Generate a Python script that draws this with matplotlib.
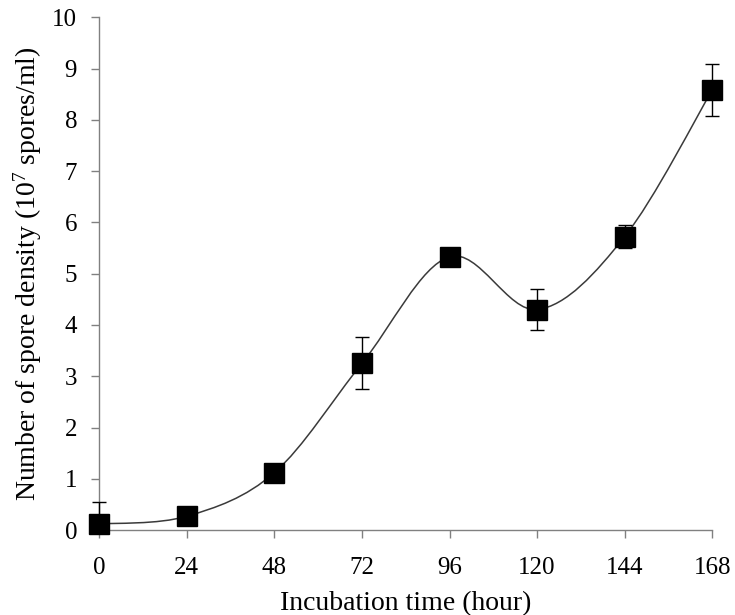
import matplotlib
matplotlib.use("Agg")
import matplotlib.pyplot as plt
from matplotlib.path import Path
from matplotlib.patches import PathPatch
import numpy as np

hours = [0, 24, 48, 72, 96, 120, 144, 168]
density = [0.12, 0.27, 1.12, 3.25, 5.33, 4.30, 5.72, 8.58]
err_upper = [0.43, 0.0, 0.0, 0.52, 0.05, 0.40, 0.22, 0.50]
err_lower = [0.12, 0.0, 0.0, 0.50, 0.05, 0.40, 0.22, 0.50]
xticks = [0, 24, 48, 72, 96, 120, 144, 168]
yticks = list(range(0, 11))

plt.rcParams['font.family'] = ['Liberation Serif', 'DejaVu Serif']
plt.rcParams['mathtext.fontset'] = 'custom'
plt.rcParams['mathtext.rm'] = 'Liberation Serif'
plt.rcParams['mathtext.it'] = 'Liberation Serif:italic'

fig = plt.figure(figsize=(7.35, 6.15), dpi=100)
ax = fig.add_axes([0.135, 0.138, 0.834, 0.834])

# Excel-style smoothed line via cubic Bezier segments through the data points
x = np.array(hours, float)
y = np.array(density, float)
verts = [(x[0], y[0])]
codes = [Path.MOVETO]
n = len(x)
for i in range(n - 1):
    p0 = np.array([x[i - 1], y[i - 1]]) if i > 0 else np.array([x[i], y[i]])
    p1 = np.array([x[i], y[i]])
    p2 = np.array([x[i + 1], y[i + 1]])
    p3 = np.array([x[i + 2], y[i + 2]]) if i + 2 < n else p2
    c1 = p1 + (p2 - p0) / 6.0
    c2 = p2 - (p3 - p1) / 6.0
    verts += [tuple(c1), tuple(c2), tuple(p2)]
    codes += [Path.CURVE4] * 3
ax.add_patch(PathPatch(Path(verts, codes), facecolor='none', edgecolor='#3a3a3a',
                       lw=1.1, zorder=2, clip_on=False))

eb = ax.errorbar(hours, density, yerr=[err_lower, err_upper], fmt='none', ecolor='black',
                 elinewidth=1.0, capsize=5, capthick=1.0, zorder=3)
for art in list(eb.lines[1]) + list(eb.lines[2]):
    art.set_clip_on(False)
ax.plot(hours, density, linestyle='none', marker='s', markersize=14,
        markerfacecolor='black', markeredgecolor='black', zorder=4, clip_on=False)

ax.set_xlim(0, 168)
ax.set_ylim(0, 10)
ax.set_xticks(xticks)
ax.set_yticks(yticks)
ax.spines['top'].set_visible(False)
ax.spines['right'].set_visible(False)
for s in ['left', 'bottom']:
    ax.spines[s].set_color('#808080')
    ax.spines[s].set_linewidth(1.0)
ax.tick_params(axis='both', colors='#808080', length=6, width=1.0,
               labelsize=18, labelcolor='black', direction='out')
ax.tick_params(axis='x', pad=13)
ax.tick_params(axis='y', pad=10)

ax.set_xlabel('Incubation time (hour)', fontsize=20, labelpad=9)
ax.set_ylabel(r'Number of spore density (10$^{\mathrm{7}}$ spores/ml)', fontsize=20, labelpad=6)
fig.savefig('out.png', dpi=100)
